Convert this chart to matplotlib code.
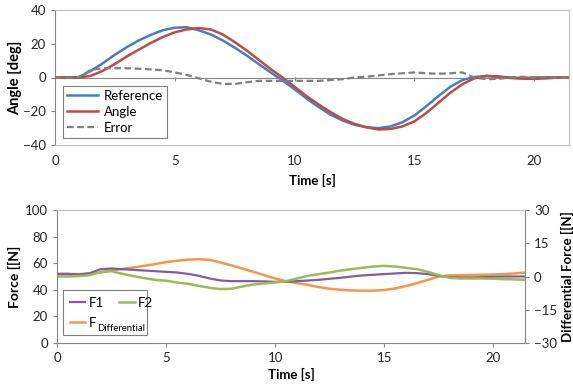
import numpy as np
import matplotlib.pyplot as plt
from matplotlib.patches import Rectangle

plt.rcParams['font.family'] = ['Lato', 'DejaVu Sans']

# time base (s)
t = np.arange(0, 22, 0.5)

# top panel, angles in deg
reference = [0, 0, 0.2, 4, 8.5, 13.5, 18, 22, 25.3, 28, 29.5, 29.8, 28, 25.5, 22,
             17.7, 13, 8, 3, -1.8, -7, -12.5, -17.5, -22, -25.5, -28, -29.5, -30,
             -29, -26.5, -22.5, -17, -11, -5.5, -1.5, 0.3, 0.8, 0.5, 0, -0.3, 0,
             0.2, 0, 0]
angle = [0, 0, 0, 1, 4, 8, 12.5, 16.5, 20.5, 24, 26.8, 28.5, 29.3, 28.5, 25.5, 21,
         16, 10.5, 5, 0, -5.5, -11, -16, -20.5, -24.5, -27.5, -29.5, -30.8, -30.5,
         -29, -26, -21, -15, -9, -4, -0.5, 1, 0.6, -0.3, -0.7, -0.8, -0.5, 0, 0]
error = [0, 0, 0.3, 4.5, 5.5, 5.5, 5.5, 5.2, 4.8, 4.3, 3, 1.5, -0.5, -2.5, -3.8,
         -3.8, -2.8, -2, -2, -2, -2, -2, -2, -1.5, -1, 0, 0.5, 1.2, 2, 2.5, 3,
         2.5, 2.2, 2.5, 3, 0, -1, -0.8, 0, 0.4, 0, 0.3, 0, 0]

# bottom panel, forces in N
f1 = [52, 52, 51.5, 52.5, 55.5, 56, 55.5, 55, 54.5, 54, 53.5, 53, 52, 50.5, 48.5,
      47, 46.5, 46.5, 46.5, 46.3, 46, 46, 46.5, 47, 47.5, 48.3, 49, 50, 50.8, 51.3,
      51.8, 52.3, 52.8, 52.5, 51.8, 50.5, 49.5, 49.3, 49.3, 49.5, 49.8, 50, 50, 50]
f2 = [50, 50, 50.3, 51, 53.5, 54, 52, 50.3, 48.8, 47.5, 46.8, 45.5, 44.5, 43, 41.5,
      40.5, 40.8, 42.5, 44, 44.8, 45.5, 46.5, 48.5, 50.5, 51.8, 53, 54.5, 55.5,
      56.5, 57.5, 58, 57.5, 56.5, 55.5, 53.5, 51, 49, 48.5, 48.5, 48.5, 48.3, 48,
      47.8, 47.5]
f_diff = [1.1, 1.1, 1.1, 1.2, 1.8, 2.7, 3.4, 4.1, 4.8, 5.6, 6.5, 7.1, 7.6, 7.8, 7.5,
          6.3, 5.0, 3.6, 2.1, 0.6, -0.9, -2.1, -3.0, -3.8, -4.8, -5.5, -6.0, -6.3,
          -6.4, -6.4, -6.1, -5.4, -4.3, -3.0, -1.5, 0, 0.5, 0.6, 0.7, 0.8, 0.9, 1.1,
          1.4, 1.8]

AX_GRAY = '#868686'
BORDER = '#bfbfbf'
TXT = '#262626'
TICK_FS = 9.5
LAB_FS = 9.5

fig = plt.figure(figsize=(5.73, 3.88), dpi=100)

# ---- top panel ----
ax1 = fig.add_axes([55/573, 1 - 145/388, 514/573, 135/388])
ax1.axhline(0, color=AX_GRAY, lw=0.8, zorder=1)
ax1.plot(t, reference, color='#4a7ebb', lw=1.8, label='Reference', zorder=3)
ax1.plot(t, angle, color='#be4b48', lw=1.8, label='Angle', zorder=3)
ax1.plot(t, error, color='#7f7f7f', lw=1.6, ls=(0, (3, 1.6)), label='Error', zorder=3)
ax1.set_xlim(0, 21.45)
ax1.set_ylim(-40, 40)
ax1.set_yticks([-40, -20, 0, 20, 40])
ax1.set_xticks([0, 5, 10, 15, 20])
for s in ['top', 'right', 'bottom']:
    ax1.spines[s].set_color(BORDER)
    ax1.spines[s].set_linewidth(0.8)
ax1.spines['left'].set_color(AX_GRAY)
ax1.tick_params(axis='x', length=0, labelsize=TICK_FS, labelcolor=TXT, pad=7)
ax1.tick_params(axis='y', length=3, color=AX_GRAY, labelsize=TICK_FS, labelcolor=TXT)
zero_ax = ax1.secondary_xaxis(0.5)
zero_ax.set_xticks([5, 10, 15, 20])
zero_ax.set_xticklabels([])
zero_ax.tick_params(length=3, color=AX_GRAY, direction='in')
for s in zero_ax.spines.values():
    s.set_visible(False)
ax1.set_xlabel('Time [s]', fontsize=LAB_FS, fontweight='bold', labelpad=5)
ax1.set_ylabel('Angle [deg]', fontsize=LAB_FS + 1, fontweight='bold', labelpad=1)
leg1 = ax1.legend(loc='lower left', bbox_to_anchor=(0.015, 0.052), fontsize=TICK_FS,
                  fancybox=False, edgecolor='#808080', framealpha=1,
                  handlelength=2.4, borderpad=0.3, labelspacing=0.3,
                  handletextpad=0.4, borderaxespad=0)
leg1.get_frame().set_linewidth(0.8)

# ---- bottom panel ----
ax2 = fig.add_axes([57/573, 1 - 343/388, 468/573, 133/388])
l1, = ax2.plot(t, f1, color='#7d5fa0', lw=1.6, label='F1')
l2, = ax2.plot(t, f2, color='#9bbb59', lw=1.8, label='F2')
ax2.set_xlim(0, 21.45)
ax2.set_ylim(0, 100)
ax2.set_yticks(range(0, 101, 20))
ax2.set_xticks([0, 5, 10, 15, 20])
ax3 = ax2.twinx()
l3, = ax3.plot(t, f_diff, color='#f79646', lw=1.8, label='F Differential')
ax3.set_ylim(-30, 30)
ax3.set_yticks([-30, -15, 0, 15, 30])
ax2.set_zorder(ax3.get_zorder() + 1)
ax2.patch.set_visible(False)

for a in (ax2, ax3):
    a.spines['top'].set_color(BORDER)
    a.spines['top'].set_linestyle((0, (1, 1)))
    a.spines['top'].set_linewidth(0.8)
    a.spines['left'].set_color(AX_GRAY)
    a.spines['right'].set_color(AX_GRAY)
    a.spines['bottom'].set_color(AX_GRAY)
ax2.spines['right'].set_visible(False)
ax3.spines['left'].set_visible(False)
ax3.spines['bottom'].set_visible(False)
ax2.tick_params(axis='both', length=3, color=AX_GRAY, labelsize=TICK_FS, labelcolor=TXT)
ax3.tick_params(axis='y', length=3, color=AX_GRAY, labelsize=TICK_FS, labelcolor=TXT)
ax2.set_xlabel('Time [s]', fontsize=LAB_FS, fontweight='bold', labelpad=3)
ax2.set_ylabel('Force [[N]', fontsize=LAB_FS + 0.5, fontweight='bold', labelpad=3)
ax3.set_ylabel('Differential Force [[N]', fontsize=LAB_FS, fontweight='bold', labelpad=3)

# Excel-style legend: F1 and F2 on one row, F_Differential below, one frame
box = Rectangle((0.0128, 0.06), 0.179, 0.338, transform=ax2.transAxes,
                facecolor='white', edgecolor='#808080', lw=0.8, zorder=4)
ax2.add_patch(box)
leg_kw = dict(fontsize=TICK_FS, frameon=False, handlelength=1.15,
              handletextpad=0.25, columnspacing=1.2, borderpad=0.2, borderaxespad=0)
leg_a = ax2.legend([l1, l2], ['F1', 'F2'], ncol=2, loc='center left',
                   bbox_to_anchor=(0.022, 0.30), **leg_kw)
leg_a.set_zorder(5)
ax2.add_artist(leg_a)
leg_b = ax2.legend([l3], ['F'], loc='center left',
                   bbox_to_anchor=(0.022, 0.15), **leg_kw)
leg_b.set_zorder(5)
ax2.annotate('Differential', xy=(1, 0), xycoords=leg_b.get_texts()[0],
             xytext=(1, 0.5), textcoords='offset points', va='center', ha='left',
             fontsize=6.8, color='black', zorder=6)

fig.savefig('out.png', dpi=100)
